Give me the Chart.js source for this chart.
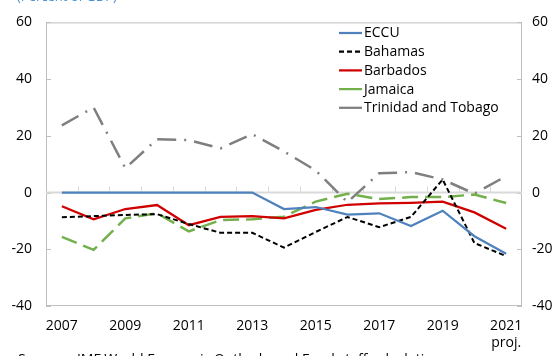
<!DOCTYPE html>
<html>
<head>
<meta charset="utf-8">
<script src="https://cdn.jsdelivr.net/npm/chart.js@4"></script>
<style>
  html, body { margin: 0; padding: 0; background: #fff; }
  canvas { display: block; }
</style>
</head>
<body>
<canvas id="c" width="557" height="356"></canvas>
<script>
// Overall fiscal balance, 2007-2021 (percent of GDP)
const years = ['2007','2008','2009','2010','2011','2012','2013','2014','2015','2016','2017','2018','2019','2020','2021'];
const yTicks = [-40, -20, 0, 20, 40, 60];

const eccu     = [0, 0, 0, 0, 0, 0, 0, -5.8, -5.1, -7.8, -7.3, -11.8, -6.4, -15.4, -21.6];
const bahamas  = [-8.7, -8.3, -7.9, -7.6, -11.1, -14.2, -14.2, -19.4, -13.9, -8.6, -12.2, -8.6, 4.6, -17.8, -22.4];
const barbados = [-4.8, -9.4, -5.8, -4.4, -11.5, -8.6, -8.3, -9.1, -6.1, -4.3, -3.8, -3.6, -3.2, -7.0, -12.8];
const jamaica  = [-15.6, -20.2, -9.1, -7.3, -13.7, -9.7, -9.4, -8.5, -3.2, -0.4, -2.3, -1.6, -1.6, -0.7, -3.7];
const trinidad = [23.7, 30.0, 8.6, 18.8, 18.5, 15.6, 20.6, 14.5, 7.8, -3.4, 6.8, 7.2, 4.6, -0.4, 5.8];

const FONT = '"Open Sans", "Noto Sans", sans-serif';
const AXIS_GREY = '#bfbfbf';

const xLabels = years.map((y, i) => i === years.length - 1 ? [y, 'proj.'] : y);

function series(label, data, color, width, dash, legendDash) {
  return {
    label, data,
    borderColor: color, backgroundColor: color,
    borderWidth: width, borderDash: dash, legendDash: legendDash,
    pointRadius: 0, pointHoverRadius: 0, tension: 0, fill: false
  };
}

// Frame, zero line and inward tick marks
const axisDecor = {
  id: 'axisDecor',
  beforeDatasetsDraw(chart) {
    const { ctx, chartArea: a, scales } = chart;
    const x = scales.x, y = scales.y;
    ctx.save();
    ctx.strokeStyle = AXIS_GREY;
    ctx.lineWidth = 1;
    ctx.strokeRect(a.left + 0.5, a.top + 0.5, a.right - a.left - 1, a.bottom - a.top - 1);
    yTicks.forEach(v => {
      const py = Math.round(y.getPixelForValue(v)) + 0.5;
      ctx.beginPath();
      ctx.moveTo(a.left, py); ctx.lineTo(a.left + 5, py);
      ctx.moveTo(a.right, py); ctx.lineTo(a.right - 5, py);
      ctx.stroke();
    });
    const zy = y.getPixelForValue(0);
    ctx.strokeStyle = '#d9d9d9';
    ctx.lineWidth = 2;
    ctx.beginPath();
    ctx.moveTo(a.left, zy); ctx.lineTo(a.right, zy);
    ctx.stroke();
    ctx.lineWidth = 1;
    for (let i = 0; i < years.length - 1; i++) {
      const px = Math.round((x.getPixelForValue(i) + x.getPixelForValue(i + 1)) / 2) + 0.5;
      ctx.beginPath();
      ctx.moveTo(px, zy); ctx.lineTo(px, zy - 6);
      ctx.stroke();
    }
    ctx.restore();
  }
};

// Legend block in the upper right of the plot, plus heading and source lines
const legendAndNotes = {
  id: 'legendAndNotes',
  afterDraw(chart) {
    const { ctx } = chart;
    ctx.save();
    ctx.font = '14px ' + FONT;
    ctx.textBaseline = 'middle';
    chart.data.datasets.forEach((ds, i) => {
      const cy = 33 + i * 18.7;
      ctx.strokeStyle = ds.borderColor;
      ctx.lineWidth = 2.25;
      ctx.setLineDash(ds.legendDash);
      ctx.beginPath();
      ctx.moveTo(339, cy); ctx.lineTo(362, cy);
      ctx.stroke();
      ctx.setLineDash([]);
      ctx.fillStyle = '#000';
      ctx.textAlign = 'left';
      ctx.fillText(ds.label, 364, cy + 0.5);
    });
    ctx.textBaseline = 'alphabetic';
    ctx.fillStyle = '#4a8fd4';
    ctx.font = '13px ' + FONT;
    ctx.fillText('(Percent of GDP)', 17, 0.5);
    ctx.fillStyle = '#000';
    ctx.font = '14px ' + FONT;
    ctx.fillText('Sources: IMF World Economic Outlook; and Fund staff calculations.', 18, 364);
    ctx.restore();
  }
};

new Chart(document.getElementById('c'), {
  type: 'line',
  data: {
    labels: xLabels,
    datasets: [
      series('ECCU', eccu, '#4f81bd', 2.25, [], []),
      series('Bahamas', bahamas, '#000000', 2, [5, 3], [5, 3]),
      series('Barbados', barbados, '#d00000', 2.25, [], []),
      series('Jamaica', jamaica, '#73b04b', 2.5, [16, 7], []),
      series('Trinidad and Tobago', trinidad, '#7f7f7f', 2.5, [19, 8, 2, 8], [])
    ]
  },
  options: {
    responsive: false,
    animation: false,
    layout: { padding: { top: 22, bottom: 0, left: 0, right: 0 } },
    plugins: { legend: { display: false }, tooltip: { enabled: false } },
    scales: {
      x: {
        type: 'category',
        offset: true,
        grid: { display: false, drawTicks: false },
        border: { display: false },
        ticks: {
          autoSkip: false, maxRotation: 0, minRotation: 0, padding: 12,
          color: '#000', font: { family: FONT, size: 14 },
          callback: (v, i) => (i % 2 === 0 ? xLabels[i] : '')
        },
        afterFit: s => { s.height = 50; }
      },
      y: {
        position: 'left',
        min: -40, max: 60,
        afterBuildTicks: s => { s.ticks = yTicks.map(v => ({ value: v })); },
        grid: { display: false, drawTicks: false },
        border: { display: false },
        ticks: { padding: 14, color: '#000', font: { family: FONT, size: 14 } },
        afterFit: s => { s.width = 46; }
      },
      y2: {
        position: 'right',
        min: -40, max: 60,
        afterBuildTicks: s => { s.ticks = yTicks.map(v => ({ value: v })); },
        grid: { display: false, drawTicks: false },
        border: { display: false },
        ticks: { padding: 10, color: '#000', font: { family: FONT, size: 14 } },
        afterFit: s => { s.width = 35; }
      }
    }
  },
  plugins: [axisDecor, legendAndNotes]
});
</script>
</body>
</html>
